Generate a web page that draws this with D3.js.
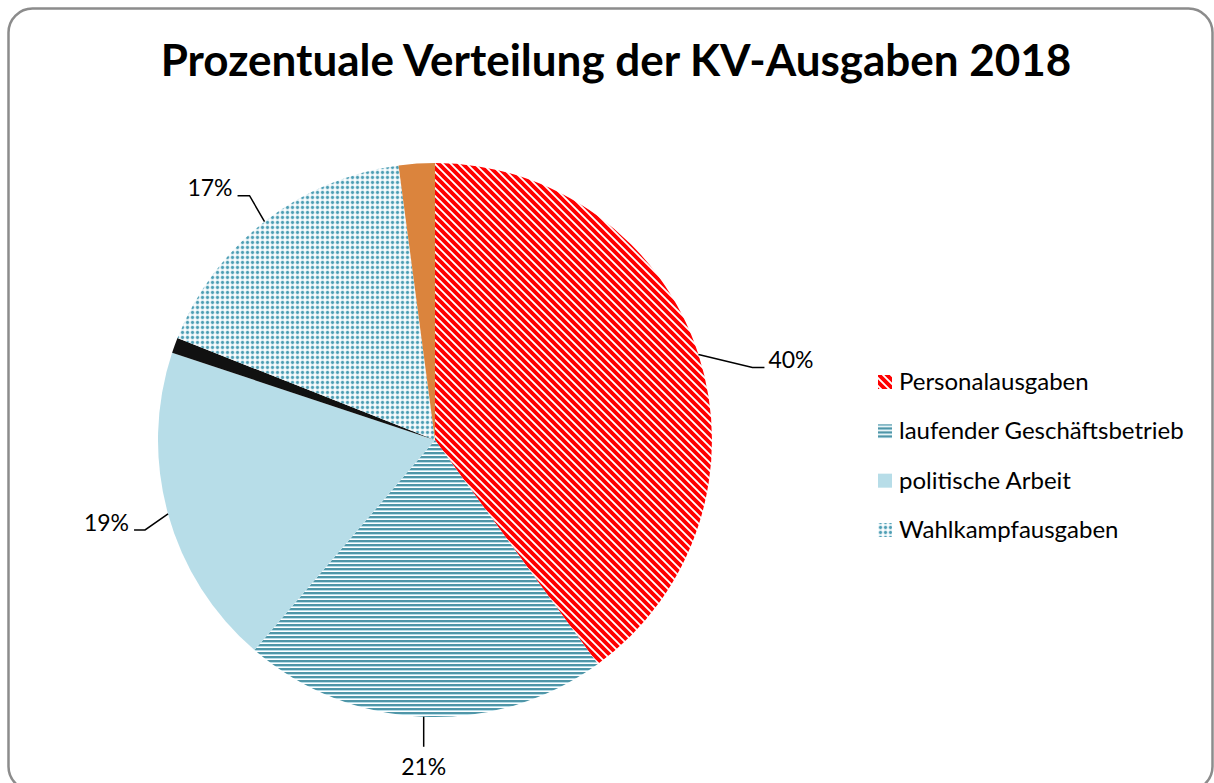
<!DOCTYPE html>
<html>
<head>
<meta charset="utf-8">
<script src="https://cdn.jsdelivr.net/npm/d3@7"></script>
<style>
  html, body { margin: 0; padding: 0; background: #fff; }
  svg { display: block; }
</style>
</head>
<body>
<div id="chart"></div>
<script>
// Slices, clockwise from 12 o'clock
const categories = ['Personalausgaben', 'laufender Geschäftsbetrieb', 'politische Arbeit',
    'sonstige Ausgaben', 'Wahlkampfausgaben', 'Rücklagen'];
const shares = [40.0, 21.3, 18.8, 0.9, 16.9, 2.1];
// Only these appear in the legend and get a percentage label
const legendItems = ['Personalausgaben', 'laufender Geschäftsbetrieb', 'politische Arbeit', 'Wahlkampfausgaben'];

const width = 1214;
const height = 783;
const font = 'Lato, "Open Sans", sans-serif';

const colors = {
    red: '#ff0000',
    teal: '#4f96a8',
    lightBlue: '#b7dde8',
    dot: '#4d9db3',
    black: '#111111',
    orange: '#db843d',
    border: '#8c8c8c',
    text: '#000000'
};

const svg = d3.select('#chart')
    .append('svg')
    .attr('width', width)
    .attr('height', height);

// Patterns
const defs = svg.append('defs');

const diag = defs.append('pattern')
    .attr('id', 'p-diag')
    .attr('patternUnits', 'userSpaceOnUse')
    .attr('width', 8)
    .attr('height', 8);
diag.append('rect').attr('width', 8).attr('height', 8).attr('fill', '#fff');
diag.append('path')
    .attr('d', 'M-2,-2 L10,10 M-2,6 L2,10 M6,-2 L10,2')
    .attr('stroke', colors.red)
    .attr('stroke-width', 3.8);

const horiz = defs.append('pattern')
    .attr('id', 'p-horiz')
    .attr('patternUnits', 'userSpaceOnUse')
    .attr('width', 8)
    .attr('height', 4);
horiz.append('rect').attr('width', 8).attr('height', 4).attr('fill', '#fff');
horiz.append('rect').attr('y', 0).attr('width', 8).attr('height', 2).attr('fill', colors.teal);
horiz.append('rect').attr('y', 2).attr('width', 8).attr('height', 1).attr('fill', colors.lightBlue);

const dots = defs.append('pattern')
    .attr('id', 'p-dots')
    .attr('patternUnits', 'userSpaceOnUse')
    .attr('width', 5)
    .attr('height', 5);
dots.append('rect').attr('width', 5).attr('height', 5).attr('fill', '#fff');
dots.append('circle').attr('cx', 2.5).attr('cy', 2.5).attr('r', 2.2).attr('fill', '#c4e1ea');
dots.append('circle').attr('cx', 2.5).attr('cy', 2.5).attr('r', 1.4).attr('fill', colors.dot);

const fills = d3.scaleOrdinal()
    .domain(categories)
    .range(['url(#p-diag)', 'url(#p-horiz)', colors.lightBlue, colors.black, 'url(#p-dots)', colors.orange]);

// Outer frame (bottom edge runs past the window)
svg.append('rect')
    .attr('x', 8.5)
    .attr('y', 8.5)
    .attr('width', 1204)
    .attr('height', 782)
    .attr('rx', 24)
    .attr('ry', 24)
    .attr('fill', '#fff')
    .attr('stroke', colors.border)
    .attr('stroke-width', 2.5);

// Title
svg.append('text')
    .attr('x', 616)
    .attr('y', 76)
    .attr('text-anchor', 'middle')
    .style('font-family', font)
    .style('font-weight', 'bold')
    .style('font-size', '44px')
    .attr('fill', colors.text)
    .text('Prozentuale Verteilung der KV-Ausgaben 2018');

// Pie
const cx = 435;
const cy = 440;
const radius = 277;

const data = categories.map((name, i) => ({ name, value: shares[i] }));

const pie = d3.pie()
    .sort(null)
    .value(d => d.value);

const arc = d3.arc()
    .innerRadius(0)
    .outerRadius(radius);

const arcs = pie(data);

const g = svg.append('g')
    .attr('transform', `translate(${cx},${cy})`);

g.selectAll('path.slice')
    .data(arcs)
    .enter()
    .append('path')
    .attr('class', 'slice')
    .attr('d', arc)
    .attr('fill', d => fills(d.data.name));

// Data labels with leader lines (elbow offsets as placed in the original)
const labelLayout = {
    'Personalausgaben': { elbow: [54, 13], tail: 12, anchor: 'start', dy: 1 },
    'laufender Geschäftsbetrieb': { elbow: [0, 30], tail: 0, anchor: 'middle', dy: 28 },
    'politische Arbeit': { elbow: [-23, 16], tail: -11, anchor: 'end', dy: 1 },
    'Wahlkampfausgaben': { elbow: [-15, -26], tail: -12, anchor: 'end', dy: 0 }
};

const pct = d3.format('.0f');
const total = d3.sum(shares);

const labelArcs = arcs.filter(d => legendItems.includes(d.data.name));

const labels = g.selectAll('g.label')
    .data(labelArcs)
    .enter()
    .append('g')
    .attr('class', 'label');

labels.each(function(d) {
    const lay = labelLayout[d.data.name];
    const mid = (d.startAngle + d.endAngle) / 2;
    const p0 = [Math.sin(mid) * radius, -Math.cos(mid) * radius];
    const p1 = [p0[0] + lay.elbow[0], p0[1] + lay.elbow[1]];
    const p2 = [p1[0] + lay.tail, p1[1]];
    const sel = d3.select(this);

    sel.append('path')
        .attr('d', d3.line()([p0, p1, p2]))
        .attr('fill', 'none')
        .attr('stroke', colors.text)
        .attr('stroke-width', 1.5);

    const gap = lay.anchor === 'start' ? 4 : lay.anchor === 'end' ? -5 : 0;
    sel.append('text')
        .attr('x', p2[0] + gap)
        .attr('y', p2[1] + lay.dy)
        .attr('text-anchor', lay.anchor)
        .style('font-family', font)
        .style('font-size', '23px')
        .attr('fill', colors.text)
        .text(pct(d.data.value / total * 100) + '%');
});

// Legend
const legendY = d3.scalePoint()
    .domain(legendItems)
    .range([382, 530]);

const legend = svg.append('g')
    .attr('class', 'legend');

const rows = legend.selectAll('g')
    .data(legendItems)
    .enter()
    .append('g')
    .attr('transform', d => `translate(878,${legendY(d)})`);

rows.append('rect')
    .attr('x', 0)
    .attr('y', -7)
    .attr('width', 14)
    .attr('height', 14)
    .attr('fill', d => fills(d));

rows.append('text')
    .attr('x', 21)
    .attr('y', 8)
    .style('font-family', font)
    .style('font-size', '24px')
    .attr('fill', colors.text)
    .text(d => d);
</script>
</body>
</html>
